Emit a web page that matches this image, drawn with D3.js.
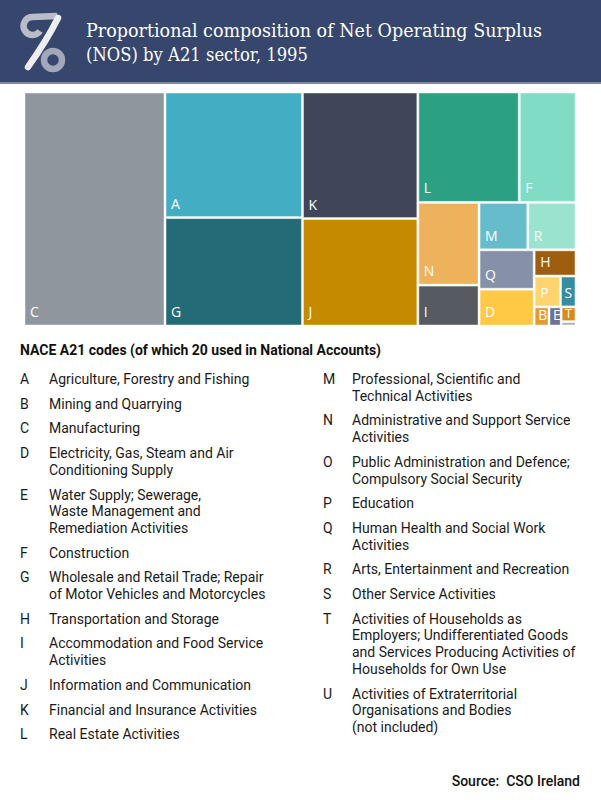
<!DOCTYPE html>
<html>
<head>
<meta charset="utf-8">
<script src="https://cdn.jsdelivr.net/npm/d3@7"></script>
<style>
  body { margin: 0; background: #fff; }
  svg { display: block; }
</style>
</head>
<body>
<svg id="chart" width="601" height="800"></svg>
<script>
// NOS 1995 shares by A21 sector (%)
var codes   = ["C", "A", "G", "K", "J", "L", "F", "N", "I", "M", "R", "Q", "D", "H", "P", "S", "B", "E", "T", "O"];
var shares  = [25.55, 13.37, 11.54, 11.31, 9.60, 8.67, 4.85, 3.92, 1.94, 1.79, 1.77, 1.68, 1.57, 0.85, 0.63, 0.37, 0.22, 0.18, 0.17, 0.05];
var colours = ["#8f969d", "#43adc4", "#256b77", "#404659", "#c48a00", "#2ba083", "#80dcc5", "#efb25c", "#555b61", "#66bccb",
               "#9ae3cf", "#8690a8", "#ffc845", "#9e5e10", "#ffd46e", "#358ea0", "#e39a33", "#6c7391", "#d98a1e", "#a9b0b8"];

var leftCodes  = ["A", "B", "C", "D", "E", "F", "G", "H", "I", "J", "K", "L"];
var leftNames  = [
  ["Agriculture, Forestry and Fishing"],
  ["Mining and Quarrying"],
  ["Manufacturing"],
  ["Electricity, Gas, Steam and Air", "Conditioning Supply"],
  ["Water Supply; Sewerage,", "Waste Management and", "Remediation Activities"],
  ["Construction"],
  ["Wholesale and Retail Trade; Repair", "of Motor Vehicles and Motorcycles"],
  ["Transportation and Storage"],
  ["Accommodation and Food Service", "Activities"],
  ["Information and Communication"],
  ["Financial and Insurance Activities"],
  ["Real Estate Activities"]
];
var rightCodes = ["M", "N", "O", "P", "Q", "R", "S", "T", "U"];
var rightNames = [
  ["Professional, Scientific and", "Technical Activities"],
  ["Administrative and Support Service", "Activities"],
  ["Public Administration and Defence;", "Compulsory Social Security"],
  ["Education"],
  ["Human Health and Social Work", "Activities"],
  ["Arts, Entertainment and Recreation"],
  ["Other Service Activities"],
  ["Activities of Households as", "Employers; Undifferentiated Goods", "and Services Producing Activities of", "Households for Own Use"],
  ["Activities of Extraterritorial", "Organisations and Bodies", "(not included)"]
];

var titleLines = ["Proportional composition of Net Operating Surplus", "(NOS) by A21 sector, 1995"];

var svg = d3.select("#chart");

// header band
svg.append("rect").attr("width", 601).attr("height", 83).attr("fill", "#36466c");
svg.append("rect").attr("y", 82).attr("width", 601).attr("height", 2).attr("fill", "#7d879f");

// logo, roughly: two rings joined by a ribbon
var logo = svg.append("g").attr("fill", "none").attr("stroke-width", 6.5);
logo.append("path")
    .attr("d", "M40,31 A9,9 0 1 1 32,17 L57,16")
    .attr("stroke", "#b9bdc9");
logo.append("circle").attr("cx", 53).attr("cy", 60).attr("r", 9).attr("stroke", "#a2a8b9");
logo.append("path")
    .attr("d", "M58,18 C50,34 40,50 28,67")
    .attr("stroke", "#eceef2").attr("stroke-linecap", "round");

svg.selectAll(".title")
  .data(titleLines)
  .enter().append("text")
    .attr("class", "title")
    .attr("x", 86)
    .attr("y", function(d, i) { return 37 + i * 24; })
    .attr("fill", "#fff")
    .style("font", "18px 'DejaVu Serif'")
    .attr("textLength", function(d, i) { return i ? 222 : 456; })
    .attr("lengthAdjust", "spacingAndGlyphs")
    .text(function(d) { return d; });

// treemap
var data = codes.map(function(c, i) { return {code: c, value: shares[i], colour: colours[i]}; });
var root = d3.hierarchy({children: data})
    .sum(function(d) { return d.value; })
    .sort(function(a, b) { return b.value - a.value; });

d3.treemap()
    .tile(d3.treemapSquarify.ratio(1))
    .size([550, 232])
    .paddingInner(2)(root);

var g = svg.append("g").attr("transform", "translate(25,93)");

var cell = g.selectAll(".cell")
  .data(root.leaves())
  .enter().append("g")
    .attr("class", "cell")
    .attr("transform", function(d) { return "translate(" + d.x0 + "," + d.y0 + ")"; });

cell.append("rect")
    .attr("width", function(d) { return d.x1 - d.x0; })
    .attr("height", function(d) { return d.y1 - d.y0; })
    .attr("fill", function(d) { return d.data.colour; })
    .attr("stroke", "rgba(255,255,255,0.45)")
    .attr("stroke-width", 1);

cell.filter(function(d) { return d.y1 - d.y0 > 10; })
  .append("text")
    .attr("x", function(d) { return d.x1 - d.x0 < 20 ? 3 : 5; })
    .attr("y", function(d) { var h = d.y1 - d.y0; return h - Math.min(8, (h - 10) / 2 + 1); })
    .attr("fill", "#fff")
    .style("font", function(d) { return (d.y1 - d.y0 < 16 ? 12 : 14) + "px 'Open Sans'"; })
    .text(function(d) { return d.data.code; });

// key
svg.append("text")
    .attr("x", 20).attr("y", 355)
    .style("font", "bold 14px Roboto")
    .attr("fill", "#111")
    .text("NACE A21 codes (of which 20 used in National Accounts)");

function drawKey(keyCodes, keyNames, x0) {
  var y = 384;
  keyCodes.forEach(function(c, i) {
    var item = svg.append("g").style("font", "14px Roboto").attr("fill", "#1a1a1a");
    item.append("text").attr("x", x0).attr("y", y).text(c);
    keyNames[i].forEach(function(line, j) {
      item.append("text").attr("x", x0 + 29).attr("y", y + j * 16.7).text(line);
    });
    y += (keyNames[i].length - 1) * 16.7 + 24.7;
  });
}
drawKey(leftCodes, leftNames, 20);
drawKey(rightCodes, rightNames, 323);

svg.append("text")
    .attr("x", 580).attr("y", 786)
    .attr("text-anchor", "end")
    .style("font", "500 14px Roboto")
    .style("white-space", "pre")
    .attr("fill", "#111")
    .text("Source:  CSO Ireland");
</script>
</body>
</html>
